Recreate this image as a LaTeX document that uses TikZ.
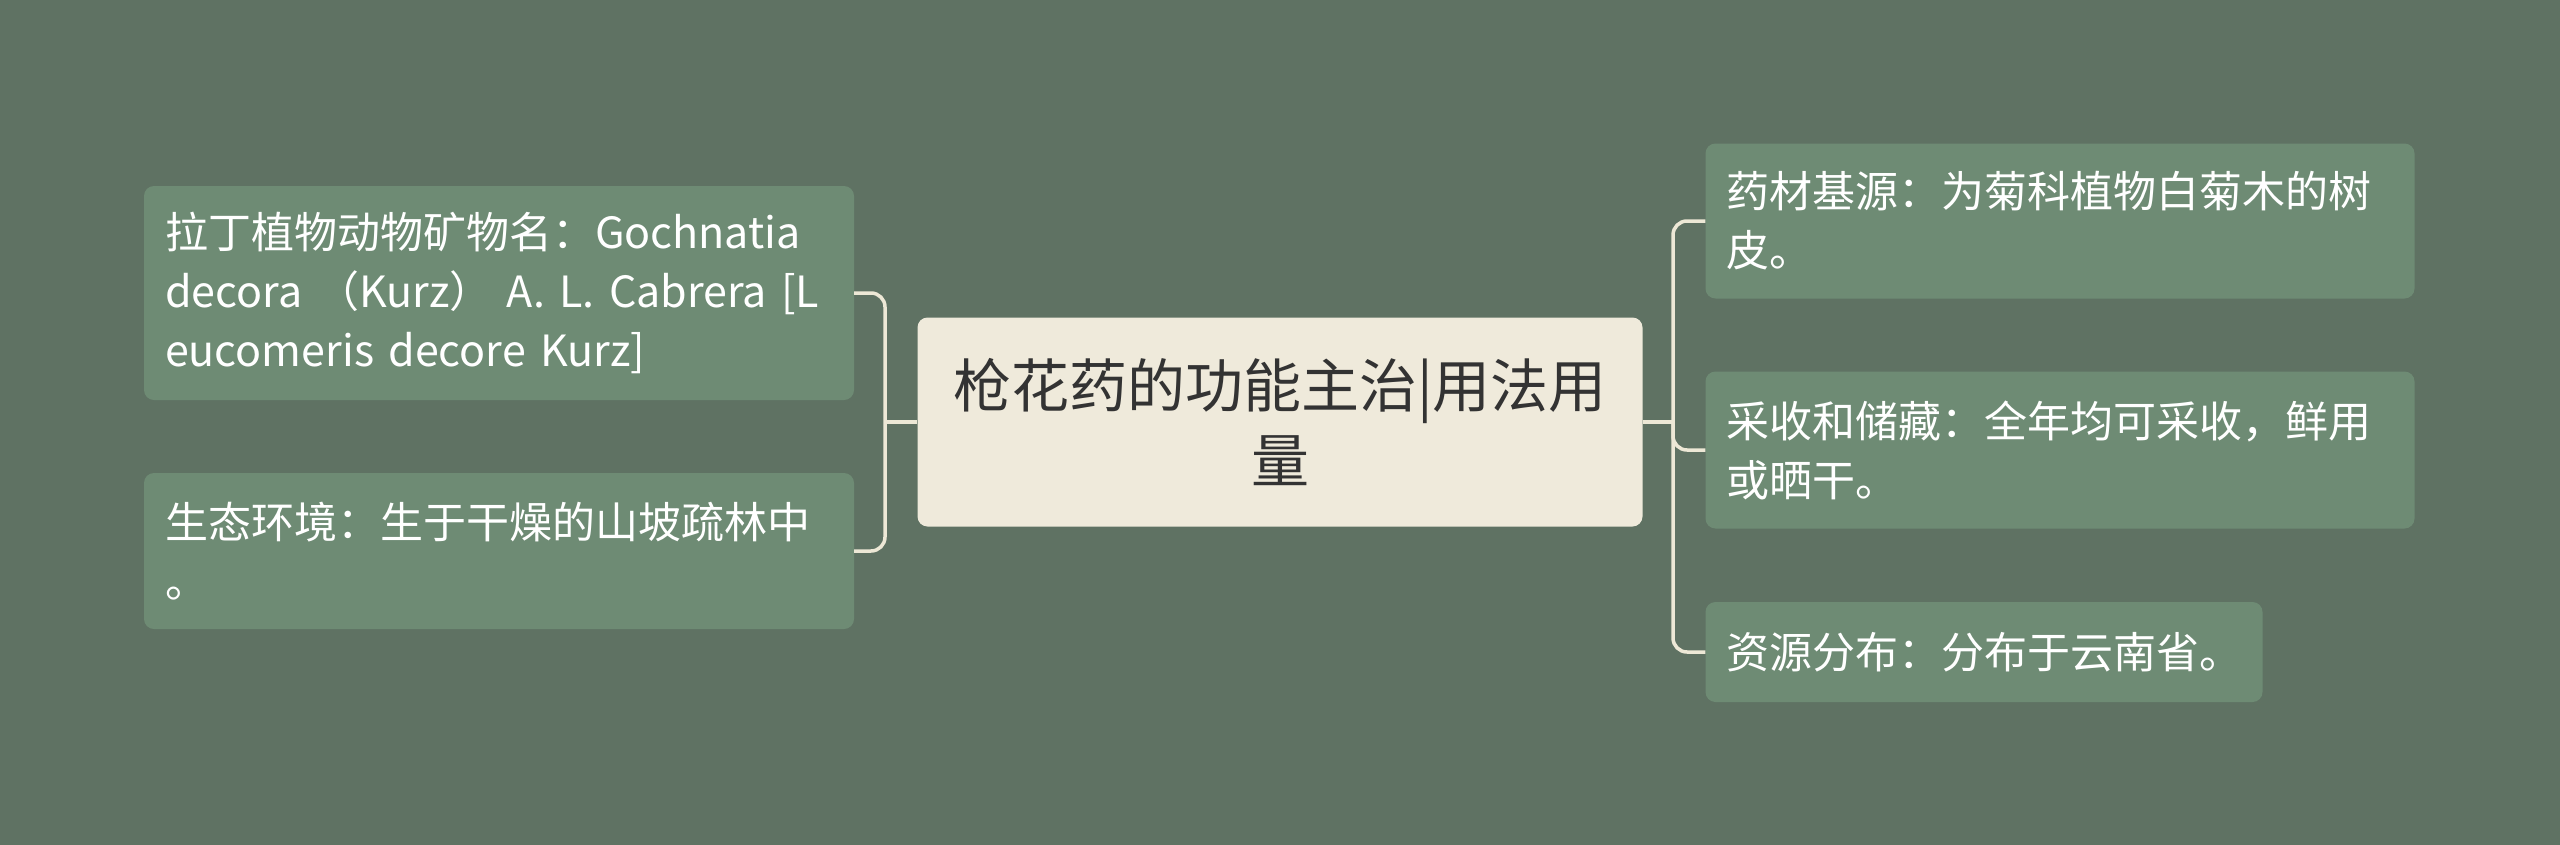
\documentclass[tikz,border=0pt]{standalone}
\usepackage{fontspec}
\usepackage{tikz}
\usetikzlibrary{positioning}
\newfontfamily\cjk{Noto Sans CJK SC}
\definecolor{bgcol}{HTML}{5F7263}
\definecolor{leafcol}{HTML}{6E8B74}
\definecolor{rootcol}{HTML}{EFEADB}
\definecolor{linkcol}{HTML}{EDE8D6}

\begin{document}
\begin{tikzpicture}[
	leaf/.style={fill=leafcol, rounded corners=10bp, inner xsep=21bp, inner ysep=0bp,
		align=left, text=white, font=\cjk\fontsize{43bp}{59bp}\selectfont},
	root/.style={fill=rootcol, rounded corners=10bp, inner sep=0bp, align=center,
		text=black!80, font=\cjk\fontsize{58bp}{75bp}\selectfont},
	link/.style={draw=linkcol, line width=3.5bp, rounded corners=14bp}]
	\fill [bgcol] (0bp,0bp) rectangle (2560bp,-845bp);
	\useasboundingbox (0bp,0bp) rectangle (2560bp,-845bp);

	\node (root) at (1280bp,-422bp) [root, minimum width=725bp, minimum height=209bp] {枪花药的功能主治|用法用\\量};

	\node (lat) at (499bp,-293bp)  [leaf, text width=668bp, minimum height=214bp] {拉丁植物动物矿物名：Gochnatia\\decora\ （Kurz）\ A. L. Cabrera [L\\eucomeris decore Kurz]};
	\node (eco) at (499bp,-551bp)  [leaf, text width=668bp, minimum height=156bp] {生态环境：生于干燥的山坡疏林中\\。};

	\node (src) at (2060bp,-221bp) [leaf, text width=667bp, minimum height=155bp] {药材基源：为菊科植物白菊木的树\\皮。};
	\node (har) at (2060bp,-450bp) [leaf, text width=667bp, minimum height=157bp] {采收和储藏：全年均可采收，鲜用\\或晒干。};
	\node (dis) at (1984bp,-652bp) [leaf, text width=515bp, minimum height=100bp] {资源分布：分布于云南省。};

	\coordinate (lj) at (885bp,-422bp);
	\coordinate (rj) at (1673bp,-422bp);

	\draw [link] (root.west) -- (lj);
	\draw [link] (lat.east) -| (lj) |- (eco.east);
	\draw [link] (root.east) -- (rj);
	\draw [link] (src.west) -| (rj) |- (dis.west);
	\draw [link] (har.west) -| (rj);
\end{tikzpicture}
\end{document}
